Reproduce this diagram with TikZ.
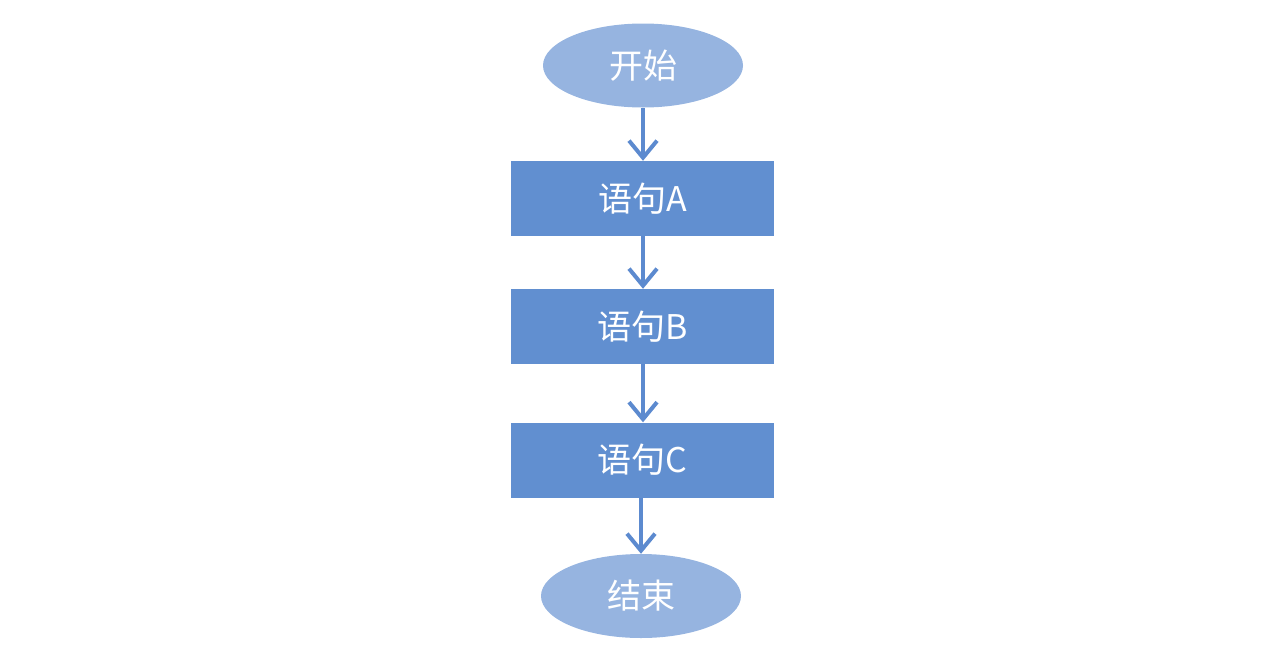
\documentclass[tikz,border=0pt]{standalone}
\usepackage{fontspec}
\setmainfont{Noto Sans CJK SC}
\usetikzlibrary{arrows.meta,shapes.geometric}
\definecolor{boxblue}{RGB}{97,143,208}
\definecolor{ovalblue}{RGB}{150,180,224}
\definecolor{arrowblue}{RGB}{92,138,207}
\tikzset{
  stepbox/.style={rectangle, fill=boxblue, minimum width=263pt, minimum height=75pt,
    inner sep=0pt, text=white, font=\fontsize{34pt}{38pt}\selectfont},
  terminal/.style={ellipse, fill=ovalblue, minimum width=200pt, minimum height=84pt,
    inner sep=0pt, text=white, font=\fontsize{34pt}{38pt}\selectfont},
  flow/.style={draw=arrowblue, line width=4pt,
    -{Straight Barb[length=17pt 0, width=28pt 0, line width=4pt]}}
}
\begin{document}
\begin{tikzpicture}[x=1pt,y=-1pt]
  \useasboundingbox (0,0) rectangle (1288,654);
  \node[terminal] (start) at (643,65.5) {开始};
  \node[stepbox] (a) at (642.5,198.5) {语句A};
  \node[stepbox] (b) at (642.5,326.5) {语句B};
  \node[stepbox] (c) at (642.5,460) {语句C};
  \node[terminal] (end) at (641,596) {结束};
  \draw[flow] (start.south) -- (start.south |- a.north);
  \draw[flow] (a.south -| start.south) -- (start.south |- b.north);
  \draw[flow] (b.south -| start.south) -- (start.south |- c.north);
  \draw[flow] (c.south -| end.north) -- (end.north);
\end{tikzpicture}
\end{document}
